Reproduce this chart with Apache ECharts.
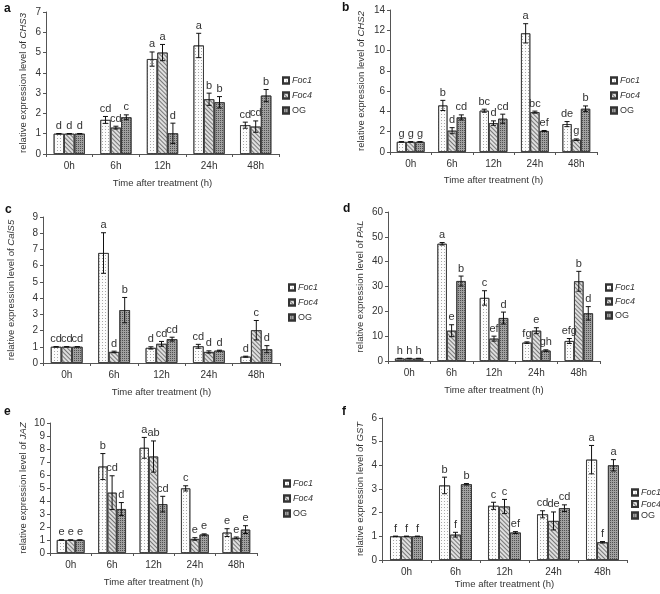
<!DOCTYPE html>
<html><head><meta charset="utf-8">
<script src="https://cdn.jsdelivr.net/npm/echarts@6/dist/echarts.min.js"></script>
<style>html,body{margin:0;padding:0;background:#fff}#c{width:660px;height:594px}</style>
</head><body><div id="c"></div>
<script>
const categories = ['0h', '6h', '12h', '24h', '48h'];
const seriesNames = ['Foc1', 'Foc4', 'OG'];
const genes = ['CHS3', 'CHS2', 'CalS5', 'PAL', 'JAZ', 'GST'];
const panelLetters = ['a', 'b', 'c', 'd', 'e', 'f'];
const yMax = [7, 14, 9, 60, 10, 6];
const yStep = [1, 2, 1, 10, 1, 1];

// a: CHS3
const chs3Foc1 = [1, 1.68, 4.68, 5.35, 1.42];
const chs3Foc4 = [1, 1.30, 5.00, 2.70, 1.35];
const chs3OG   = [1, 1.81, 1.02, 2.55, 2.88];
const chs3Foc1Err = [0.01, 0.17, 0.35, 0.60, 0.15];
const chs3Foc4Err = [0.01, 0.07, 0.40, 0.30, 0.28];
const chs3OGErr   = [0.01, 0.12, 0.50, 0.28, 0.30];
const chs3Foc1Sig = ['d', 'cd', 'a', 'a', 'cd'];
const chs3Foc4Sig = ['d', 'cd', 'a', 'b', 'cd'];
const chs3OGSig   = ['d', 'c', 'd', 'b', 'b'];

// b: CHS2
const chs2Foc1 = [1, 4.59, 4.07, 11.70, 2.75];
const chs2Foc4 = [1, 2.10, 2.85, 3.93, 1.21];
const chs2OG   = [1, 3.41, 3.28, 2.07, 4.26];
const chs2Foc1Err = [0.02, 0.50, 0.15, 0.95, 0.25];
const chs2Foc4Err = [0.02, 0.30, 0.22, 0.10, 0.08];
const chs2OGErr   = [0.02, 0.25, 0.45, 0.05, 0.28];
const chs2Foc1Sig = ['g', 'b', 'bc', 'a', 'de'];
const chs2Foc4Sig = ['g', 'd', 'd', 'bc', 'g'];
const chs2OGSig   = ['g', 'cd', 'cd', 'ef', 'b'];

// c: CalS5
const cals5Foc1 = [1, 6.78, 0.93, 1.03, 0.39];
const cals5Foc4 = [1, 0.68, 1.18, 0.68, 2.02];
const cals5OG   = [1, 3.26, 1.47, 0.76, 0.85];
const cals5Foc1Err = [0.01, 1.25, 0.07, 0.12, 0.03];
const cals5Foc4Err = [0.01, 0.05, 0.15, 0.07, 0.60];
const cals5OGErr   = [0.01, 0.78, 0.12, 0.03, 0.22];
const cals5Foc1Sig = ['cd', 'a', 'd', 'cd', 'd'];
const cals5Foc4Sig = ['cd', 'd', 'cd', 'd', 'c'];
const cals5OGSig   = ['cd', 'b', 'cd', 'd', 'd'];

// d: PAL
const palFoc1 = [1, 47.2, 25.4, 7.4, 8.05];
const palFoc4 = [1, 12.2, 9.0, 12.2, 32.1];
const palOG   = [1, 32.2, 17.3, 4.2, 19.2];
const palFoc1Err = [0.1, 0.5, 2.9, 0.3, 1.0];
const palFoc4Err = [0.1, 2.4, 1.0, 1.2, 4.0];
const palOGErr   = [0.1, 2.0, 2.4, 0.3, 2.7];
const palFoc1Sig = ['h', 'a', 'c', 'fg', 'efg'];
const palFoc4Sig = ['h', 'e', 'ef', 'e', 'b'];
const palOGSig   = ['h', 'b', 'd', 'gh', 'd'];

// e: JAZ
const jazFoc1 = [1, 6.65, 8.09, 4.97, 1.57];
const jazFoc4 = [1, 4.64, 7.42, 1.08, 1.16];
const jazOG   = [1, 3.38, 3.76, 1.42, 1.80];
const jazFoc1Err = [0.01, 1.00, 0.80, 0.20, 0.30];
const jazFoc4Err = [0.01, 1.30, 1.20, 0.10, 0.07];
const jazOGErr   = [0.01, 0.50, 0.60, 0.05, 0.30];
const jazFoc1Sig = ['e', 'b', 'a', 'c', 'e'];
const jazFoc4Sig = ['e', 'cd', 'ab', 'e', 'e'];
const jazOGSig   = ['e', 'd', 'cd', 'e', 'e'];

// f: GST
const gstFoc1 = [1, 3.15, 2.29, 1.93, 4.24];
const gstFoc4 = [1, 1.07, 2.26, 1.65, 0.75];
const gstOG   = [1, 3.20, 1.16, 2.19, 4.00];
const gstFoc1Err = [0.01, 0.35, 0.15, 0.15, 0.60];
const gstFoc4Err = [0.01, 0.10, 0.30, 0.38, 0.03];
const gstOGErr   = [0.01, 0.03, 0.04, 0.14, 0.24];
const gstFoc1Sig = ['f', 'b', 'c', 'cd', 'a'];
const gstFoc4Sig = ['f', 'f', 'c', 'de', 'f'];
const gstOGSig   = ['f', 'b', 'ef', 'cd', 'a'];

const panelValues = [
  [chs3Foc1, chs3Foc4, chs3OG], [chs2Foc1, chs2Foc4, chs2OG], [cals5Foc1, cals5Foc4, cals5OG],
  [palFoc1, palFoc4, palOG], [jazFoc1, jazFoc4, jazOG], [gstFoc1, gstFoc4, gstOG]
];
const panelErrors = [
  [chs3Foc1Err, chs3Foc4Err, chs3OGErr], [chs2Foc1Err, chs2Foc4Err, chs2OGErr], [cals5Foc1Err, cals5Foc4Err, cals5OGErr],
  [palFoc1Err, palFoc4Err, palOGErr], [jazFoc1Err, jazFoc4Err, jazOGErr], [gstFoc1Err, gstFoc4Err, gstOGErr]
];
const panelSigs = [
  [chs3Foc1Sig, chs3Foc4Sig, chs3OGSig], [chs2Foc1Sig, chs2Foc4Sig, chs2OGSig], [cals5Foc1Sig, cals5Foc4Sig, cals5OGSig],
  [palFoc1Sig, palFoc4Sig, palOGSig], [jazFoc1Sig, jazFoc4Sig, jazOGSig], [gstFoc1Sig, gstFoc4Sig, gstOGSig]
];

// layout
const grids = [
  {left: 46, top: 12, width: 233, height: 142},
  {left: 390, top: 10, width: 207, height: 142},
  {left: 43, top: 217, width: 237, height: 146},
  {left: 388, top: 212, width: 212, height: 149},
  {left: 50, top: 423, width: 207, height: 130},
  {left: 382, top: 418, width: 245, height: 142}
];
const yNameGap = [18, 24, 27, 23, 22, 17];
const xNameGap = [24, 23, 24, 24, 24, 19];
const legendPos = [
  {left: 277, top: 71, gap: 6}, {left: 605, top: 71, gap: 6}, {left: 283, top: 278, gap: 6},
  {left: 600, top: 278, gap: 5}, {left: 278, top: 474, gap: 6}, {left: 626, top: 483, gap: 2.5}
];
const letterPos = [[8, 10], [346, 9], [9, 211], [347, 210], [8, 413], [346, 413]];
const GAP = 0.33;

const fills = [
  {color: '#fcfcfc', decal: {symbol: 'rect', symbolSize: 1, dashArrayX: [1, 2], dashArrayY: [1, 2], color: '#a8a8a8'}},
  {color: '#dedede', decal: {symbol: 'rect', symbolSize: 1, dashArrayX: [1, 0], dashArrayY: [1, 2], rotation: Math.PI / 4, color: '#777777'}},
  {color: '#a0a0a0', decal: {symbol: 'rect', symbolSize: 1, dashArrayX: [1, 1], dashArrayY: [1, 1], color: '#505050'}}
];

const TXT = '#333';
const option = {
  animation: false,
  backgroundColor: '#fff',
  textStyle: {fontFamily: 'Liberation Sans, Arial, sans-serif'},
  grid: [], xAxis: [], yAxis: [], series: [], legend: [], graphic: []
};

for (let p = 0; p < 6; p++) {
  option.grid.push(Object.assign({containLabel: false}, grids[p]));
  option.xAxis.push({
    type: 'category', gridIndex: p, data: categories,
    name: 'Time after treatment (h)', nameLocation: 'middle', nameGap: xNameGap[p],
    nameTextStyle: {fontSize: 9.5, color: TXT},
    axisLine: {lineStyle: {color: '#555', width: 1}},
    axisTick: {show: true, length: 3, lineStyle: {color: '#555'}},
    axisLabel: {fontSize: 10, color: TXT, margin: 7}
  });
  option.yAxis.push({
    type: 'value', gridIndex: p, min: 0, max: yMax[p], interval: yStep[p],
    name: '{n|relative expression level of }{g|' + genes[p] + '}',
    nameLocation: 'middle', nameGap: yNameGap[p], nameRotate: 90,
    nameTextStyle: {fontSize: 9.5, color: TXT, rich: {n: {fontSize: 9.5, color: TXT}, g: {fontSize: 9.5, color: TXT, fontStyle: 'italic'}}},
    axisLine: {show: true, lineStyle: {color: '#555', width: 1}},
    axisTick: {show: true, length: 3, lineStyle: {color: '#555'}},
    axisLabel: {fontSize: 10, color: TXT, margin: 5},
    splitLine: {show: false}
  });
  for (let s = 0; s < 3; s++) {
    option.series.push({
      type: 'bar', name: seriesNames[s], xAxisIndex: p, yAxisIndex: p,
      data: panelValues[p][s],
      barGap: '0%', barCategoryGap: (GAP * 100) + '%',
      itemStyle: {color: fills[s].color, decal: fills[s].decal, borderColor: '#333', borderWidth: 0.8},
      emphasis: {disabled: true}
    });
  }
  for (let s = 0; s < 3; s++) {
    const vals = panelValues[p][s], errs = panelErrors[p][s], sigs = panelSigs[p][s];
    option.series.push({
      type: 'custom', name: 'err' + p + s, xAxisIndex: p, yAxisIndex: p, z: 5,
      encode: {x: 0, y: 1},
      data: vals.map((v, i) => [i, v, errs[i]]),
      renderItem: function (params, api) {
        const i = api.value(0), v = api.value(1), e = api.value(2);
        const catW = api.size([1, 0])[0];
        const bw = catW * (1 - GAP) / 3;
        const c = api.coord([i, v]);
        const x = c[0] + (s - 1) * bw;
        const yt = api.coord([i, v + e])[1];
        const yb = api.coord([i, Math.max(0, v - e)])[1];
        const cap = 2.5;
        const st = {stroke: '#111', lineWidth: 1};
        return {
          type: 'group',
          children: [
            {type: 'line', shape: {x1: x, y1: yt, x2: x, y2: yb}, style: st},
            {type: 'line', shape: {x1: x - cap, y1: yt, x2: x + cap, y2: yt}, style: st},
            {type: 'line', shape: {x1: x - cap, y1: yb, x2: x + cap, y2: yb}, style: st},
            {type: 'text', x: x, y: yt - 2, style: {text: sigs[params.dataIndex], fill: TXT, fontSize: 11, fontFamily: 'Liberation Sans, Arial, sans-serif', align: 'center', verticalAlign: 'bottom'}}
          ]
        };
      }
    });
  }
  option.legend.push({
    orient: 'vertical', left: legendPos[p].left, top: legendPos[p].top,
    itemWidth: 6, itemHeight: 6, itemGap: legendPos[p].gap, icon: 'rect',
    textStyle: {fontSize: 9, color: TXT, padding: [0, 0, 0, -2]},
    selectedMode: false,
    data: [
      {name: 'Foc1', textStyle: {fontStyle: 'italic'}},
      {name: 'Foc4', textStyle: {fontStyle: 'italic'}},
      {name: 'OG'}
    ]
  });
  option.graphic.push({
    type: 'text', left: letterPos[p][0] - 4, top: letterPos[p][1] - 7,
    style: {text: panelLetters[p], fontSize: 12, fontWeight: 'bold', fill: '#111', fontFamily: 'Liberation Sans, Arial, sans-serif'}
  });
}

const chart = echarts.init(document.getElementById('c'), null, {renderer: 'canvas'});
chart.setOption(option);
</script></body></html>
